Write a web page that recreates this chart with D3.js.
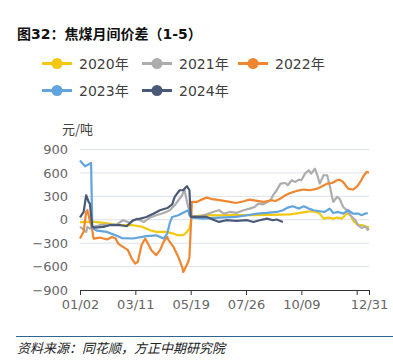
<!DOCTYPE html>
<html>
<head>
<meta charset="utf-8">
<script src="https://cdn.jsdelivr.net/npm/d3@7"></script>
<style>
  body { margin: 0; background: #fff; }
  svg { display: block; }
</style>
</head>
<body>
<svg id="chart" width="393" height="360"></svg>
<script>
// x axis is a trading-day index, 0 = 01/02, 235 = 12/31
const tickIdx = [0, 45, 90, 135, 180, 225, 235];
const tickLabels = ["01/02", "03/11", "05/19", "07/26", "10/09", "", "12/31"];
const yTicks = [-900, -600, -300, 0, 300, 600, 900];
const years = ["2020年", "2021年", "2022年", "2023年", "2024年"];
const colors = ["#f5c810", "#adadad", "#f0862f", "#62a4de", "#4a5a76"];

const day2020 = [0, 8, 12, 19, 24, 32, 43, 51, 57, 62, 70, 76, 79, 84, 87, 89, 91, 100, 114, 127, 141, 155, 163, 171, 179, 184, 188, 192, 195, 198, 202, 206, 209, 213, 217, 220, 222, 225, 228, 230, 233, 235];
const val2020 = [-30, -28, -28, -41, -49, -70, -70, -92, -134, -156, -156, -177, -198, -198, -156, -113, 45, 58, 55, 60, 58, 62, 65, 70, 87, 100, 109, 100, 79, 15, 28, 15, 28, 15, 79, 58, -6, -58, -70, -70, -92, -95];

const day2021 = [0, 5, 6, 8, 11, 16, 24, 30, 35, 41, 46, 52, 57, 62, 68, 73, 77, 80, 83, 85, 86, 88, 91, 98, 103, 108, 113, 117, 122, 127, 133, 138, 142, 145, 149, 155, 157, 160, 163, 167, 169, 172, 175, 178, 180, 183, 186, 188, 191, 193, 195, 198, 201, 203, 205, 206, 209, 211, 214, 217, 221, 224, 226, 229, 232, 234, 235];
const val2021 = [-90, -156, -92, -113, -92, -70, -62, -58, -6, -41, 15, -28, 28, 58, 87, 122, 186, 250, 314, 386, 300, 164, 45, 45, 70, 100, 122, 79, 100, 87, 122, 143, 164, 207, 198, 250, 314, 378, 463, 471, 442, 506, 484, 514, 506, 591, 634, 591, 655, 570, 463, 570, 570, 442, 292, 228, 292, 271, 164, 122, 36, -6, -70, -105, -85, -130, -110];

const day2022 = [0, 3, 5, 6, 8, 10, 11, 16, 22, 26, 29, 31, 35, 39, 42, 45, 47, 50, 53, 56, 58, 62, 65, 68, 71, 72, 76, 80, 83, 84, 86, 88, 89, 90, 91, 95, 99, 103, 107, 111, 117, 122, 127, 133, 138, 144, 149, 155, 159, 163, 167, 171, 176, 182, 187, 193, 197, 201, 205, 209, 211, 214, 218, 222, 225, 228, 230, 233, 235];
const val2022 = [-240, -150, 100, 122, -6, -134, -241, -228, -253, -220, -241, -305, -348, -390, -497, -561, -540, -326, -241, -326, -390, -454, -390, -284, -220, -262, -348, -476, -604, -668, -604, -540, -476, -134, 228, 228, 258, 284, 265, 258, 241, 228, 215, 237, 258, 241, 228, 250, 241, 271, 314, 343, 369, 387, 378, 399, 429, 463, 471, 506, 514, 484, 399, 387, 420, 484, 548, 612, 604];

const day2023 = [0, 4, 6, 9, 10, 14, 22, 29, 34, 43, 54, 62, 68, 71, 73, 75, 80, 85, 88, 89, 91, 100, 114, 127, 136, 144, 152, 160, 165, 169, 173, 178, 182, 186, 190, 195, 199, 203, 206, 210, 214, 218, 222, 226, 229, 232, 234];
const val2023 = [760, 685, 700, 729, -107, -140, -156, -200, -235, -240, -210, -200, -241, -177, -40, 36, 58, 100, 122, 60, 28, 15, 28, 36, 58, 79, 87, 100, 122, 156, 173, 143, 173, 143, 122, 109, 100, 143, 87, 100, 79, 122, 79, 79, 58, 79, 87];

const day2024 = [0, 3, 5, 7, 8, 10, 12, 19, 24, 33, 38, 43, 49, 54, 60, 65, 71, 75, 77, 81, 84, 85, 87, 89, 90, 95, 103, 108, 113, 119, 127, 136, 141, 146, 152, 157, 160, 165];
const val2024 = [30, 100, 314, 228, 207, -92, -100, -92, -70, -70, -83, -6, 15, 36, 79, 122, 150, 198, 292, 378, 378, 399, 429, 378, 36, 36, 36, 3, -28, -6, -15, -6, -28, -6, 15, -6, 3, -28];

const seriesDays = [day2020, day2021, day2022, day2023, day2024];
const seriesVals = [val2020, val2021, val2022, val2023, val2024];

const svg = d3.select("#chart");
const latin = "'DejaVu Sans', 'Noto Sans CJK SC', sans-serif";
const cjk = "'Noto Sans CJK SC', 'DejaVu Sans', sans-serif";

const x = d3.scaleLinear().domain([0, 235]).range([80, 369]);
const y = d3.scaleLinear().domain([-900, 900]).range([290, 149.5]);

// title
svg.append("text")
  .attr("x", 17).attr("y", 39)
  .attr("font-family", latin)
  .attr("font-size", 14)
  .attr("font-weight", "bold")
  .attr("fill", "#111")
  .text("图32：焦煤月间价差（1-5）");

// legend
const legendPos = [[42, 63.5], [142, 63.5], [238, 63.5], [42, 90.5], [142, 90.5]];
years.forEach((name, i) => {
  const g = svg.append("g").attr("transform", `translate(${legendPos[i][0]},${legendPos[i][1]})`);
  g.append("line").attr("x1", 0).attr("x2", 30)
    .attr("stroke", colors[i]).attr("stroke-width", 3);
  g.append("circle").attr("cx", 15).attr("r", 5.5).attr("fill", colors[i]);
  g.append("text").attr("x", 37).attr("y", 5)
    .attr("font-family", latin).attr("font-size", 14)
    .attr("fill", "#404040").text(name);
});

// unit
svg.append("text")
  .attr("x", 62).attr("y", 134)
  .attr("font-family", cjk).attr("font-size", 13)
  .attr("fill", "#404040").text("元/吨");

// grid
svg.append("g").selectAll("line")
  .data(yTicks.filter(d => d !== -900))
  .enter().append("line")
  .attr("x1", 80).attr("x2", 369)
  .attr("y1", d => y(d)).attr("y2", d => y(d))
  .attr("stroke", "#dde1ea").attr("stroke-width", 1);

// y axis labels only
const yAxis = svg.append("g")
  .attr("transform", "translate(80,0)")
  .call(d3.axisLeft(y).tickValues(yTicks).tickSize(0).tickPadding(12)
    .tickFormat(d => d < 0 ? "\u2212" + Math.abs(d) : d));
yAxis.select(".domain").remove();
yAxis.selectAll("text")
  .attr("font-family", latin).attr("font-size", 13).attr("fill", "#666");

// x axis
const xAxis = svg.append("g")
  .attr("transform", "translate(0,290)")
  .call(d3.axisBottom(x).tickValues(tickIdx).tickSize(5).tickPadding(5)
    .tickFormat((d, i) => tickLabels[i]));
xAxis.select(".domain").attr("stroke", "#333").attr("d", "M80,0.5H369.5");
xAxis.selectAll(".tick line").attr("stroke", "#333");
xAxis.selectAll("text")
  .attr("font-family", latin).attr("font-size", 13).attr("fill", "#666");

// lines
const line = d3.line()
  .x(d => x(d[0]))
  .y(d => y(d[1]));

seriesDays.forEach((days, i) => {
  const pts = days.map((d, j) => [d, seriesVals[i][j]]);
  svg.append("path")
    .datum(pts)
    .attr("fill", "none")
    .attr("stroke", colors[i])
    .attr("stroke-width", 2.2)
    .attr("stroke-linejoin", "round")
    .attr("d", line);
});

// footer
svg.append("line")
  .attr("x1", 16).attr("x2", 393)
  .attr("y1", 336.5).attr("y2", 336.5)
  .attr("stroke", "#2f6690").attr("stroke-width", 1.2);

svg.append("text")
  .attr("x", 17).attr("y", 353)
  .attr("font-family", cjk).attr("font-size", 13)
  .attr("font-style", "italic")
  .attr("fill", "#222")
  .text("资料来源：同花顺，方正中期研究院");
</script>
</body>
</html>
